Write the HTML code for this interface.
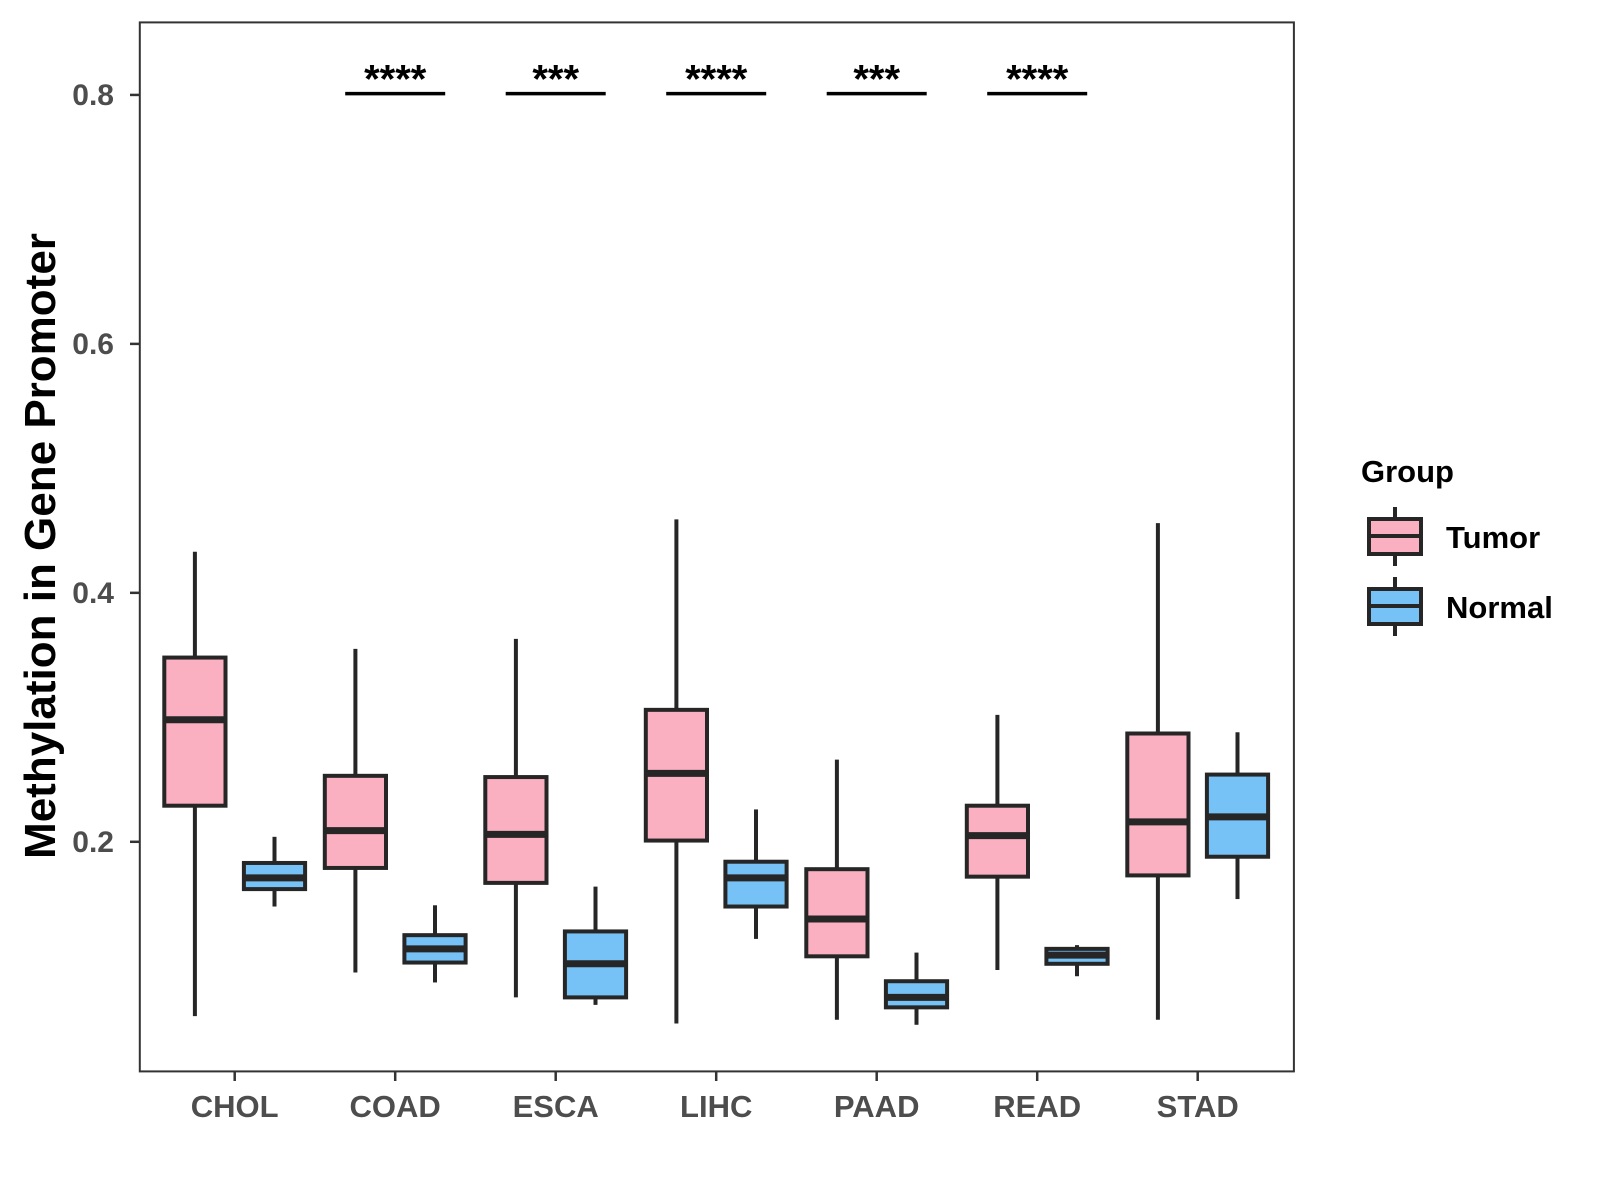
<!DOCTYPE html>
<html><head><meta charset="utf-8"><style>
html,body{margin:0;padding:0;background:#fff;}
svg{display:block;font-family:"Liberation Sans",Arial,sans-serif;}
</style></head><body>
<svg id="chart" width="1600" height="1200" viewBox="0 0 1600 1200">
<rect x="0" y="0" width="1600" height="1200" fill="#fff"/>
<g id="marks"></g>
<rect x="139.8" y="22.4" width="1154.1" height="1049" fill="none" stroke="#333" stroke-width="2"/>
<g id="axes"></g>
<text transform="translate(55,546) rotate(-90)" text-anchor="middle" font-size="44" font-weight="bold" fill="#000">Methylation in Gene Promoter</text>
<g>
<text x="1361" y="482" font-size="31" font-weight="bold" fill="#000">Group</text>
<g>
<line x1="1395" y1="507" x2="1395" y2="566" stroke="#262626" stroke-width="4"/>
<rect x="1369" y="519" width="52" height="35" fill="#FBB0C1" stroke="#262626" stroke-width="4"/>
<line x1="1369" y1="536" x2="1421" y2="536" stroke="#262626" stroke-width="4"/>
<text x="1446" y="548" font-size="31" font-weight="bold" fill="#000">Tumor</text>
</g>
<g>
<line x1="1395" y1="577" x2="1395" y2="636" stroke="#262626" stroke-width="4"/>
<rect x="1369" y="589" width="52" height="35" fill="#76C1F6" stroke="#262626" stroke-width="4"/>
<line x1="1369" y1="606" x2="1421" y2="606" stroke="#262626" stroke-width="4"/>
<text x="1446" y="618" font-size="31" font-weight="bold" fill="#000">Normal</text>
</g>
</g>
</svg>
<script>
const categories=["CHOL","COAD","ESCA","LIHC","PAAD","READ","STAD"];
// [whiskerLow, q1, median, q3, whiskerHigh]
const tumorStats=[[0.060,0.229,0.298,0.348,0.433],[0.095,0.179,0.209,0.253,0.355],[0.075,0.167,0.206,0.252,0.363],[0.054,0.201,0.255,0.306,0.459],[0.057,0.108,0.138,0.178,0.266],[0.097,0.172,0.205,0.229,0.302],[0.057,0.173,0.216,0.287,0.456]];
const normalStats=[[0.148,0.162,0.171,0.183,0.204],[0.087,0.103,0.114,0.125,0.149],[0.069,0.075,0.102,0.128,0.164],[0.122,0.148,0.171,0.184,0.226],[0.053,0.067,0.075,0.088,0.111],[0.092,0.102,0.109,0.114,0.117],[0.154,0.188,0.220,0.254,0.288]];
const yTicks=[0.2,0.4,0.6,0.8];
const yTickLabels=["0.2","0.4","0.6","0.8"];
const sigLabels=["","****","***","****","***","****",""];
const sigLevel=0.801;

const NS="http://www.w3.org/2000/svg";
function y(v){return 841.8-(v-0.2)*1244.8;}
function x(i){return 234.7+i*160.5;}
function mk(tag,attrs,parent){const e=document.createElementNS(NS,tag);for(const k in attrs)e.setAttribute(k,attrs[k]);parent.appendChild(e);return e;}
const marks=document.getElementById('marks');
const axes=document.getElementById('axes');
const bw=61.2,off=39.8,col="#262626";
function drawBox(cx,s,fill,name){
  const g=mk('g',{},marks);
  
  
  mk('line',{x1:cx,x2:cx,y1:y(s[4]),y2:y(s[3]),stroke:col,'stroke-width':4},g);
  mk('line',{x1:cx,x2:cx,y1:y(s[1]),y2:y(s[0]),stroke:col,'stroke-width':4},g);
  mk('rect',{x:cx-bw/2,y:y(s[3]),width:bw,height:y(s[1])-y(s[3]),fill:fill,stroke:col,'stroke-width':4},g);
  mk('line',{x1:cx-bw/2,x2:cx+bw/2,y1:y(s[2]),y2:y(s[2]),stroke:col,'stroke-width':7},g);
}
categories.forEach((c,i)=>{
  drawBox(x(i)-off,tumorStats[i],"#FBB0C1","box-tumor-"+c.toLowerCase());
  drawBox(x(i)+off,normalStats[i],"#76C1F6","box-normal-"+c.toLowerCase());
  const t=mk('line',{x1:x(i),x2:x(i),y1:1071.4,y2:1081,stroke:'#333','stroke-width':2.5},axes);
  
  
  const l=mk('text',{x:x(i),y:1117,'text-anchor':'middle','font-size':31,'font-weight':'bold',fill:'#4d4d4d'},axes);
  l.textContent=c;
  
  
  if(sigLabels[i]){
    const g=mk('g',{},marks);
    
    
    mk('line',{x1:x(i)-50,x2:x(i)+50,y1:y(sigLevel),y2:y(sigLevel),stroke:'#000','stroke-width':3.5},g);
    const s=mk('text',{x:x(i),y:y(sigLevel)-1,'text-anchor':'middle','font-size':40,'font-weight':'bold',fill:'#000'},g);
    s.textContent=sigLabels[i];
  }
});
yTicks.forEach((v,i)=>{
  const t=mk('line',{x1:130,x2:139.8,y1:y(v),y2:y(v),stroke:'#333','stroke-width':2.5},axes);
  
  
  const l=mk('text',{x:114,y:y(v)+10,'text-anchor':'end','font-size':30,'font-weight':'bold',fill:'#4d4d4d'},axes);
  l.textContent=yTickLabels[i];
  
  
});
</script>
</body></html>
